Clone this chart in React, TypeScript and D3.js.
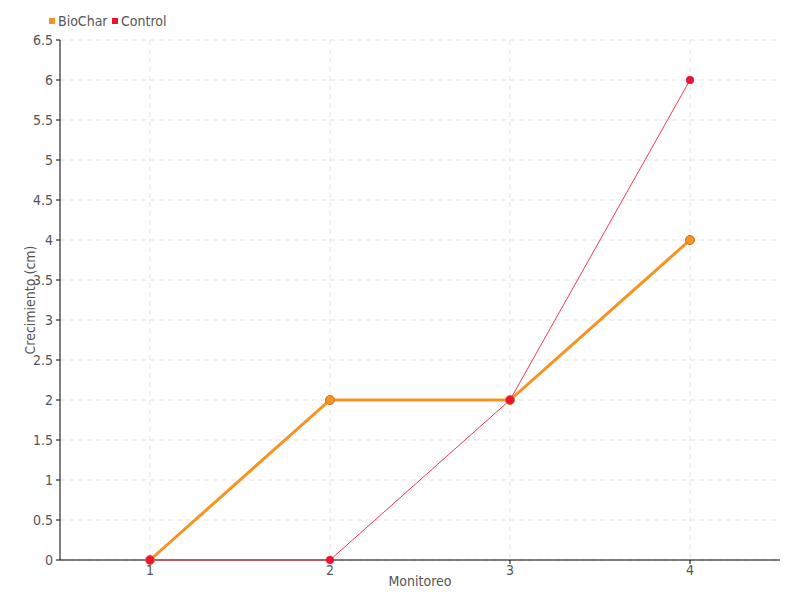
import React from "react";
import * as d3 from "d3";

const categories = [1, 2, 3, 4];
const biochar = [0, 2, 2, 4];
const control = [0, 0, 2, 6];
const yTicks = [0, 0.5, 1, 1.5, 2, 2.5, 3, 3.5, 4, 4.5, 5, 5.5, 6, 6.5];
const seriesNames = ["BioChar", "Control"];
const colors = ["#F7931E", "#EE1133"];

const W = 800, H = 600;
const m = { left: 60, right: 20, top: 40, bottom: 40 };
const font = "'DejaVu Sans Condensed', sans-serif";

export default function App() {
  const x = d3.scaleLinear().domain([0.5, 4.5]).range([m.left, W - m.right]);
  const y = d3.scaleLinear().domain([0, 6.5]).range([H - m.bottom, m.top]);
  const line = d3.line<number>().x((_, i) => x(categories[i])).y(d => y(d));
  return (
    <svg width={W} height={H} style={{ position: "absolute", left: 0, top: 0 }} fontFamily={font}>
      <rect width={W} height={H} fill="#fff" />
      {yTicks.map(t => (
        <line key={"gy" + t} x1={m.left} x2={W - m.right} y1={y(t)} y2={y(t)} stroke="#e3e3e3" strokeDasharray="5,4" />
      ))}
      {categories.map(c => (
        <line key={"gx" + c} x1={x(c)} x2={x(c)} y1={m.top} y2={H - m.bottom} stroke="#e3e3e3" strokeDasharray="5,4" />
      ))}
      <line x1={m.left} x2={m.left} y1={m.top} y2={H - m.bottom} stroke="#000" />
      <line x1={m.left} x2={W - m.right} y1={H - m.bottom} y2={H - m.bottom} stroke="#000" />
      {yTicks.map(t => (
        <g key={"ty" + t}>
          <line x1={m.left - 4} x2={m.left} y1={y(t)} y2={y(t)} stroke="#000" />
          <text x={m.left - 7} y={y(t)} dy="0.35em" textAnchor="end" fontSize={14} fill="#555">{String(t)}</text>
        </g>
      ))}
      {categories.map(c => (
        <g key={"tx" + c}>
          <line x1={x(c)} x2={x(c)} y1={H - m.bottom} y2={H - m.bottom + 4} stroke="#000" />
          <text x={x(c)} y={H - m.bottom + 15} textAnchor="middle" fontSize={14} fill="#555">{String(c)}</text>
        </g>
      ))}
      <text x={420} y={586} textAnchor="middle" fontSize={14} fill="#555">Monitoreo</text>
      <text transform={`translate(35,${(m.top + H - m.bottom) / 2}) rotate(-90)`} textAnchor="middle" fontSize={14} fill="#555">Crecimiento (cm)</text>
      <path d={line(biochar) || ""} fill="none" stroke={colors[0]} strokeWidth={3} />
      {biochar.map((v, i) => (
        <circle key={"b" + i} cx={x(categories[i])} cy={y(v)} r={4.5} fill={colors[0]} stroke="#c9701a" strokeWidth={1} />
      ))}
      <path d={line(control) || ""} fill="none" stroke="#F03A55" strokeWidth={1} />
      {control.map((v, i) => (
        <circle key={"c" + i} cx={x(categories[i])} cy={y(v)} r={4} fill={colors[1]} />
      ))}
      {seriesNames.map((s, i) => {
        const lx = [49, 112][i];
        return (
          <g key={s}>
            <rect x={lx} y={18} width={6} height={6} fill={colors[i]} />
            <text x={lx + 9} y={26} fontSize={14} fill="#555">{s}</text>
          </g>
        );
      })}
    </svg>
  );
}
